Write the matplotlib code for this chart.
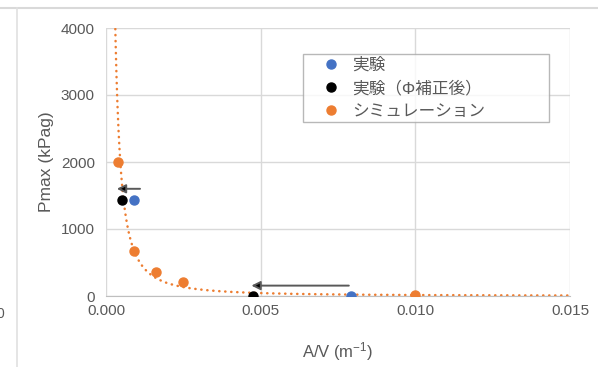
import numpy as np
import matplotlib
matplotlib.use("Agg")
import matplotlib.pyplot as plt
from matplotlib.lines import Line2D

plt.rcParams['font.family'] = ['Liberation Sans', 'Noto Sans CJK JP', 'DejaVu Sans']
plt.rcParams['mathtext.fontset'] = 'custom'
plt.rcParams['mathtext.rm'] = 'Liberation Sans'
plt.rcParams['mathtext.default'] = 'regular'

# Experimental results
exp_x = [0.00089, 0.00793]
exp_y = [1433, 5]
# Experimental results after Φ correction
cor_x = [0.00053, 0.00474]
cor_y = [1433, 5]
# Simulation results
sim_x = [0.00038, 0.00089, 0.00162, 0.00249, 0.0100]
sim_y = [2000, 676, 354, 204, 10]

# Arrows showing the shift from raw to corrected values: (x_from, x_to, y)
arrows = [(0.00110, 0.00035, 1600), (0.00785, 0.00470, 155)]

labels = ['実験', '実験（Φ補正後）', 'シミュレーション']
x_ticks = [0.0, 0.005, 0.010, 0.015]
y_ticks = [0, 1000, 2000, 3000, 4000]

W, H = 598, 367
fig = plt.figure(figsize=(W / 100, H / 100), dpi=100)
ax_l, ax_r, ax_t, ax_b = 106, 570, 28, 296
ax = fig.add_axes([ax_l / W, 1 - ax_b / H, (ax_r - ax_l) / W, (ax_b - ax_t) / H])

text_col = '#595959'
grid_col = '#d9d9d9'
blue, black, orange = '#4472C4', '#000000', '#ED7D31'

# Power trendline fitted to the simulation points
b, ln_a = np.polyfit(np.log(sim_x), np.log(sim_y), 1)
xs = np.linspace(0.00025, 0.015, 2000)
ys = np.exp(ln_a) * xs ** b
ax.plot(xs, ys, color=orange, lw=1.8, linestyle=(0, (0.1, 2.3)),
        dash_capstyle='round', zorder=2)

ms = 6.5
ax.plot(exp_x, exp_y, 'o', color=blue, ms=ms, label=labels[0], zorder=3)
ax.plot(cor_x, cor_y, 'o', color=black, ms=ms, label=labels[1], zorder=3)
ax.plot(sim_x, sim_y, 'o', color=orange, ms=ms, label=labels[2], zorder=3)

for x0, x1, y in arrows:
    ax.annotate('', xy=(x1, y), xytext=(x0, y),
                arrowprops=dict(arrowstyle='-|>', edgecolor='#595959',
                                facecolor='black', lw=1.4, mutation_scale=13,
                                shrinkA=0, shrinkB=0), zorder=4)

ax.set_xlim(0, 0.015)
ax.set_ylim(0, 4000)
ax.set_xticks(x_ticks)
ax.set_xticklabels([f'{v:.3f}' for v in x_ticks])
ax.set_yticks(y_ticks)
ax.set_yticklabels([str(v) for v in y_ticks])
ax.tick_params(length=0, labelsize=11, colors=text_col)
ax.tick_params(axis='x', pad=6)
ax.tick_params(axis='y', pad=8)
ax.grid(True, color=grid_col, lw=1.0)
ax.set_axisbelow(True)
for s in ['top', 'right', 'left']:
    ax.spines[s].set_visible(False)
ax.spines['bottom'].set_color('#bfbfbf')

ax.set_xlabel('A/V (m$^{-1}$)', fontsize=12, color=text_col, labelpad=16)
ax.set_ylabel('Pmax (kPag)', fontsize=12.5, color=text_col, labelpad=5)

# Legend box with a fixed width
lx0 = (303 - ax_l) / (ax_r - ax_l)
lw_ = (549 - 303) / (ax_r - ax_l)
ltop = 1 - (54 - ax_t) / (ax_b - ax_t)
leg = ax.legend(loc='upper left', bbox_to_anchor=(lx0, 0, lw_, ltop), mode='expand',
                frameon=True, fancybox=False, edgecolor='#a6a6a6',
                fontsize=12, handletextpad=-0.25, borderpad=0.2,
                labelspacing=0.45, handlelength=3.0, borderaxespad=0)
leg.get_frame().set_linewidth(1.0)
for t in leg.get_texts():
    t.set_color(text_col)

# Surrounding frame lines and a fragment of a neighbouring chart's tick label
fig.add_artist(Line2D([0, 1], [1 - 8 / H] * 2, transform=fig.transFigure,
                      color='#d9d9d9', lw=1.5))
fig.add_artist(Line2D([17 / W] * 2, [0, 1 - 8 / H], transform=fig.transFigure,
                      color='#e0e0e0', lw=1.2))
fig.text(4 / W, 1 - 314 / H, '0', ha='right', va='center', fontsize=10, color=text_col)

fig.savefig('out.png', dpi=100, facecolor='white')
